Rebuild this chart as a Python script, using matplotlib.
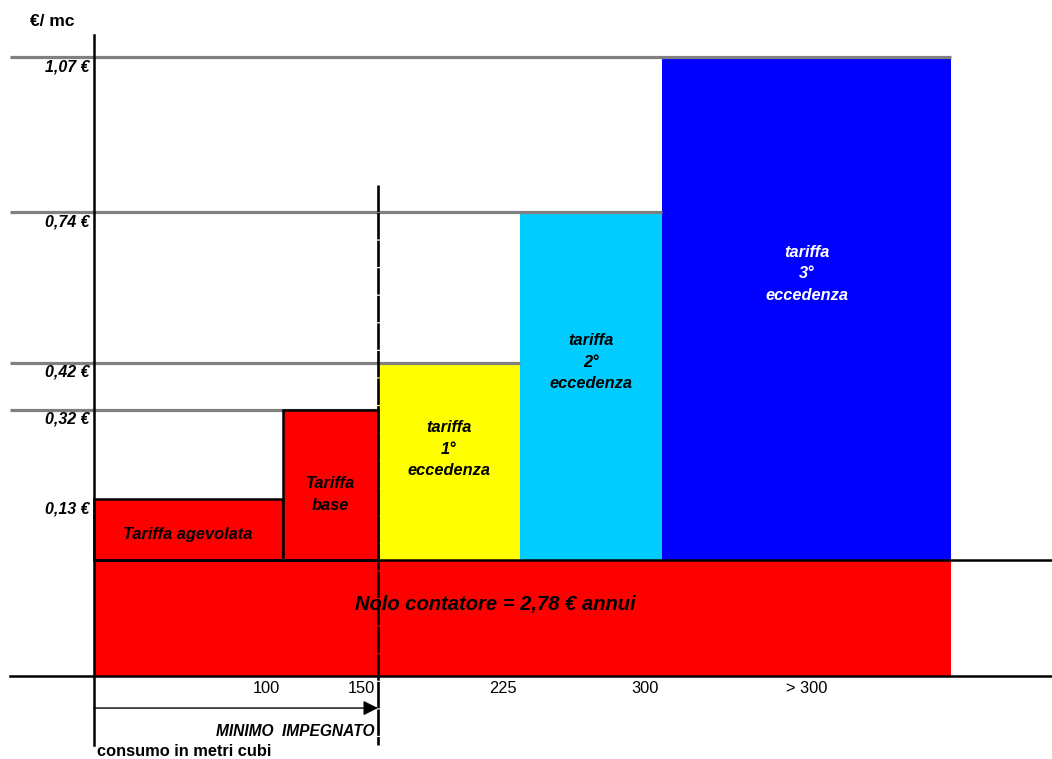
import matplotlib
matplotlib.use("Agg")
import matplotlib.pyplot as plt
from matplotlib.patches import Rectangle

plt.rcParams["font.family"] = ["Liberation Sans", "DejaVu Sans"]

# Consumption band limits (m³) and price per m³ for each band
band_edges = [0, 100, 150, 225, 300, 453]
band_rates = [0.13, 0.32, 0.42, 0.74, 1.07]
band_labels = ["Tariffa agevolata", "Tariffa\nbase", "tariffa\n1°\neccedenza",
               "tariffa\n2°\neccedenza", "tariffa\n3°\neccedenza"]
band_colors = ["#FF0000", "#FF0000", "#FFFF00", "#00CCFF", "#0000FF"]
band_text_colors = ["black", "black", "black", "black", "white"]
rate_labels = ["0,13 €", "0,32 €", "0,42 €", "0,74 €", "1,07 €"]
tick_labels = ["100", "150", "225", "300", "> 300"]
meter_fee_label = "Nolo contatore = 2,78 € annui"

fig = plt.figure(figsize=(10.52, 7.59), dpi=100)
ax = fig.add_axes([0, 0, 1, 1])
ax.set_xlim(-49.66, 506.1)
ax.set_ylim(-0.4234, 1.1915)
ax.axis("off")

x_left = -44.4
x_right = 506.1
fee_bottom = -0.247
gray = "#808080"

# Rate bars
for i, (rate, col) in enumerate(zip(band_rates, band_colors)):
    x0, x1 = band_edges[i], band_edges[i + 1]
    red = col == "#FF0000"
    ax.add_patch(Rectangle((x0, 0), x1 - x0, rate, facecolor=col,
                           edgecolor="black" if red else "none",
                           lw=1.8 if red else 0, zorder=3 if red else 1))
    # guide line from the price axis to the end of the bar
    if i > 0:
        ax.plot([x_left, x1], [rate, rate], color=gray, lw=2.3,
                solid_capstyle="butt", zorder=2)
    ax.text(-2.2, rate - 0.005, rate_labels[i], ha="right", va="top",
            fontsize=11.5, fontweight="bold", fontstyle="italic")

# Band descriptions inside the bars
text_pos = [(49.7, 0.055), (124.7, 0.140), (187.5, 0.236),
            (262.5, 0.421), (376.5, 0.609)]
for lab, (tx, ty), tc in zip(band_labels, text_pos, band_text_colors):
    ax.text(tx, ty, lab, ha="center", va="center", fontsize=11.8,
            fontweight="bold", fontstyle="italic", color=tc,
            linespacing=1.55, zorder=5)

# Meter rental band
ax.add_patch(Rectangle((0, fee_bottom), band_edges[-1], -fee_bottom,
                       facecolor="#FF0000", edgecolor="none", zorder=1))
ax.text(212, -0.094, meter_fee_label, ha="center", va="center",
        fontsize=14.5, fontweight="bold", fontstyle="italic", zorder=6)

# Axes lines
ax.plot([0, 0], [1.117, -0.394], color="black", lw=1.8, zorder=4)
ax.plot([0, x_right], [0, 0], color="black", lw=1.8, zorder=4)
ax.plot([x_left, x_right], [fee_bottom, fee_bottom], color="black",
        lw=1.8, zorder=4)

# Minimum committed consumption marker
ax.plot([150, 150], [0.798, -0.394], color="black", lw=1.9,
        linestyle=(0, (10, 0.45)), zorder=5)
ax.annotate("", xy=(150, -0.315), xytext=(0, -0.315),
            arrowprops=dict(arrowstyle="-|>", mutation_scale=22, lw=1.0,
                            color="black", shrinkA=0, shrinkB=0), zorder=5)
ax.text(148.4, -0.364, "MINIMO  IMPEGNATO", ha="right", va="center",
        fontsize=11.2, fontweight="bold", fontstyle="italic")

# Consumption tick labels
for edge, lab in zip(band_edges[1:5], tick_labels[:4]):
    ax.text(edge - 1.6, -0.274, lab, ha="right", va="center", fontsize=11.8)
ax.text((band_edges[4] + band_edges[5]) / 2, -0.274, tick_labels[4],
        ha="center", va="center", fontsize=11.8)

# Axis titles
ax.text(-33.8, 1.145, "€/ mc", ha="left", va="center", fontsize=12.5,
        fontweight="bold")
ax.text(1.6, -0.4085, "consumo in metri cubi", ha="left", va="center",
        fontsize=11.8, fontweight="bold")

fig.savefig("out.png", dpi=100)
